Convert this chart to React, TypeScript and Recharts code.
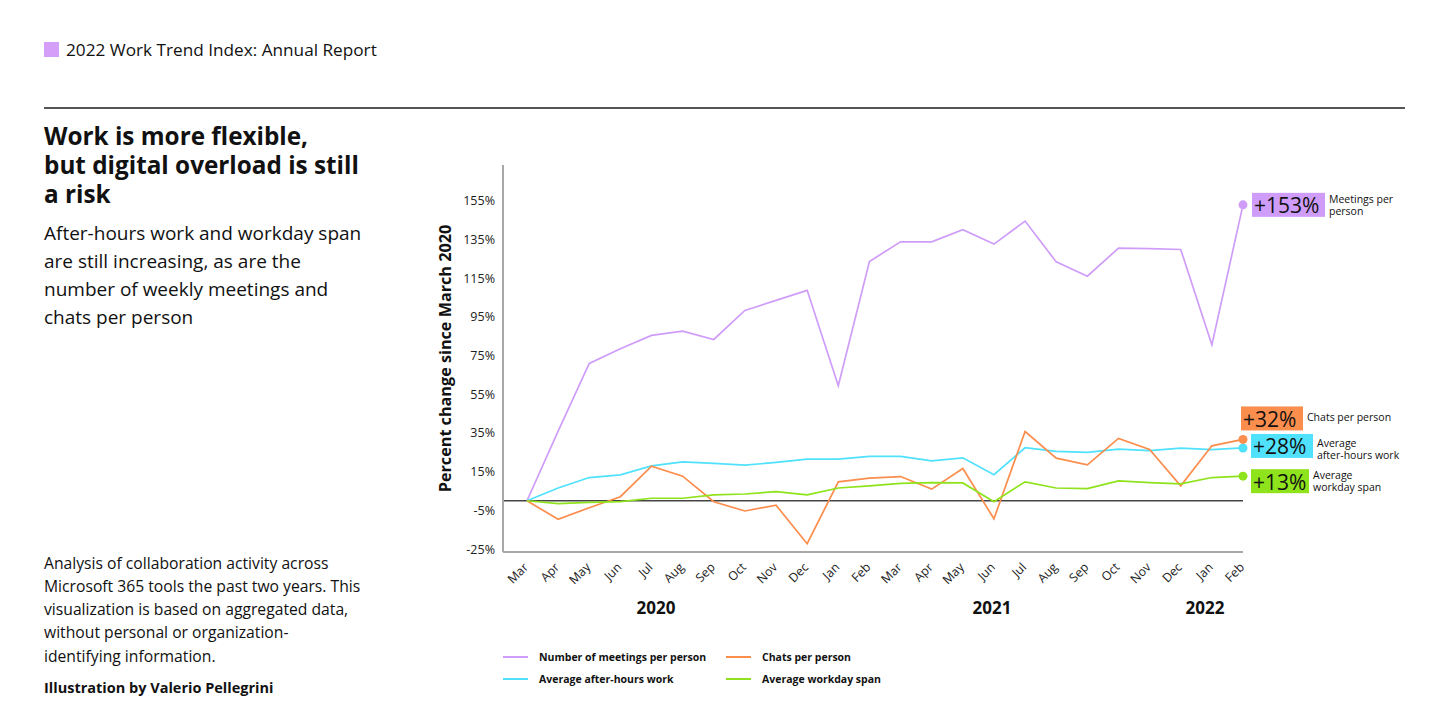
import React from "react";
import { LineChart, Line, XAxis, YAxis, ReferenceLine } from "recharts";

const MONTHS = [
  "Mar", "Apr", "May", "Jun", "Jul", "Aug", "Sep", "Oct", "Nov", "Dec", "Jan", "Feb",
  "Mar", "Apr", "May", "Jun", "Jul", "Aug", "Sep", "Oct", "Nov", "Dec", "Jan", "Feb",
];
// percent change since March 2020
const MEETINGS = [0, 36, 71, 78.6, 85.5, 87.7, 83.4, 98.4, 103.6, 108.8, 59.5, 123.7, 133.9, 133.9, 140.1, 132.7, 144.6, 123.5, 116.1, 130.6, 130.4, 129.9, 80.6, 153];
const AFTER_HOURS = [0, 6.6, 12, 13.4, 18, 20.1, 19.3, 18.4, 19.8, 21.5, 21.5, 22.9, 22.9, 20.6, 22.2, 13.5, 27.4, 25.5, 25, 26.7, 25.9, 27.2, 26.4, 27.3];
const CHATS = [0, -9.6, -3.6, 2.1, 17.9, 12.7, -0.5, -5.3, -2.3, -22.2, 9.8, 11.7, 12.5, 6, 16.7, -9.3, 35.8, 22, 18.6, 32.2, 26.5, 7.7, 28.4, 31.7];
const WORKDAY_SPAN = [0, -1.5, -0.8, -0.5, 1.3, 1.3, 3, 3.5, 4.7, 3, 6.6, 7.7, 9, 9.4, 9.2, -0.5, 9.8, 6.6, 6.3, 10.3, 9.4, 8.7, 12, 12.7];
const END_LABELS = ["+153%", "+28%", "+32%", "+13%"];
const Y_TICKS = [-25, -5, 15, 35, 55, 75, 95, 115, 135, 155];
const YEARS = ["2020", "2021", "2022"];

const FONT = '"Open Sans", "Noto Sans", sans-serif';
const TEXT = "#111";

const rows = MONTHS.map((m, i) => ({
  month: m,
  meetings: MEETINGS[i],
  afterHours: AFTER_HOURS[i],
  chats: CHATS[i],
  span: WORKDAY_SPAN[i],
}));

const SERIES = [
  {
    key: "meetings",
    name: "Number of meetings per person",
    color: "#cf9df9",
    end: END_LABELS[0],
    note: ["Meetings per", "person"],
    box: { dx: 9, dy: -12, w: 73 },
    noteDy: [6, 18],
  },
  {
    key: "afterHours",
    name: "Average after-hours work",
    color: "#50e1fc",
    end: END_LABELS[1],
    note: ["Average", "after-hours work"],
    box: { dx: 8, dy: -14, w: 62 },
    noteDy: [9, 21],
  },
  {
    key: "chats",
    name: "Chats per person",
    color: "#fb8d4d",
    end: END_LABELS[2],
    note: ["Chats per person"],
    box: { dx: -2, dy: -33, w: 62 },
    noteDy: [11],
  },
  {
    key: "span",
    name: "Average workday span",
    color: "#8fe31c",
    end: END_LABELS[3],
    note: ["Average", "workday span"],
    box: { dx: 8, dy: -7, w: 58 },
    noteDy: [6, 18],
  },
];

type S = (typeof SERIES)[number];

function endMarker(s: S) {
  return (props: any) => {
    const { cx, cy, index } = props;
    if (index !== MONTHS.length - 1) return <g key={`d-${s.key}-${index}`} />;
    const bx = cx + s.box.dx;
    const by = cy + s.box.dy;
    return (
      <g key={`d-${s.key}-${index}`}>
        <circle cx={cx} cy={cy} r={4.5} fill={s.color} />
        <rect x={bx} y={by} width={s.box.w} height={24} fill={s.color} />
        <text
          x={bx + 2}
          y={by + 12.5}
          dominantBaseline="central"
          fontSize={21}
          fontFamily={FONT}
          fill={TEXT}
        >
          {s.end}
        </text>
        {s.note.map((t, i) => (
          <text
            key={t}
            x={bx + s.box.w + 4}
            y={by + s.noteDy[i]}
            dominantBaseline="central"
            fontSize={10.5}
            fontFamily={FONT}
            fill={TEXT}
          >
            {t}
          </text>
        ))}
      </g>
    );
  };
}

function MonthTick(props: any) {
  const { x, y, payload } = props;
  const ax = x + 2;
  const ay = y + 8;
  return (
    <text
      x={ax}
      y={ay}
      transform={`rotate(-45 ${ax} ${ay})`}
      textAnchor="end"
      fontSize={12.3}
      fontFamily={FONT}
      fill="#222"
    >
      {payload.value}
    </text>
  );
}

function YLabel(props: any) {
  const { viewBox } = props;
  const x = viewBox.x + 25;
  const y = viewBox.y + viewBox.height / 2;
  return (
    <text
      x={x}
      y={y}
      transform={`rotate(-90 ${x} ${y})`}
      textAnchor="middle"
      dominantBaseline="central"
      fontSize={16.2}
      fontWeight={700}
      fontFamily={FONT}
      fill={TEXT}
    >
      Percent change since March 2020
    </text>
  );
}

const abs = (left: number, top: number, extra: React.CSSProperties = {}): React.CSSProperties => ({
  position: "absolute",
  left,
  top,
  margin: 0,
  fontFamily: FONT,
  color: TEXT,
  whiteSpace: "nowrap",
  ...extra,
});

export default function App() {
  return (
    <div style={{ position: "relative", width: 1447, height: 716, margin: -8, background: "#fff", overflow: "hidden" }}>
      <div style={{ position: "absolute", left: 44, top: 42, width: 15, height: 15, background: "#d49ef9" }} />
      <div style={abs(66, 37.5, { fontSize: 17.2, lineHeight: "24px" })}>2022 Work Trend Index: Annual Report</div>
      <div style={{ position: "absolute", left: 44, top: 107, width: 1361, height: 1.5, background: "#555" }} />

      <div style={abs(44, 121, { fontSize: 24.3, lineHeight: "29px", fontWeight: 700 })}>
        Work is more flexible,
        <br />
        but digital overload is still
        <br />a risk
      </div>
      <div style={abs(44, 218.5, { fontSize: 19, lineHeight: "28.3px" })}>
        After-hours work and workday span
        <br />
        are still increasing, as are the
        <br />
        number of weekly meetings and
        <br />
        chats per person
      </div>
      <div style={abs(44, 551.5, { fontSize: 15.7, lineHeight: "23.3px" })}>
        Analysis of collaboration activity across
        <br />
        Microsoft 365 tools the past two years. This
        <br />
        visualization is based on aggregated data,
        <br />
        without personal or organization-
        <br />
        identifying information.
      </div>
      <div style={abs(44, 678, { fontSize: 14.5, lineHeight: "20px", fontWeight: 700 })}>
        Illustration by Valerio Pellegrini
      </div>

      <div style={{ position: "absolute", left: 420, top: 150 }}>
        <LineChart
          width={1010}
          height={440}
          data={rows}
          margin={{ top: 15, right: 187, bottom: 0, left: 0 }}
          style={{ overflow: "visible" }}
        >
          <ReferenceLine y={0} stroke="#444" strokeWidth={1.3} />
          <XAxis
            dataKey="month"
            interval={0}
            padding={{ left: 24, right: 0 }}
            tickLine={false}
            axisLine={{ stroke: "#a8a8a8", strokeWidth: 2 }}
            height={38}
            tick={<MonthTick />}
          />
          <YAxis
            width={83}
            domain={[-26.5, 173.6]}
            ticks={Y_TICKS}
            tickLine={false}
            axisLine={{ stroke: "#a8a8a8", strokeWidth: 2 }}
            tickFormatter={(v: number) => `${v}%`}
            tick={{ fontSize: 12.5, fill: "#222", fontFamily: FONT }}
            label={<YLabel />}
          />
          {SERIES.map((s) => (
            <Line
              key={s.key}
              type="linear"
              dataKey={s.key}
              stroke={s.color}
              strokeWidth={1.7}
              dot={endMarker(s)}
              activeDot={false}
              isAnimationActive={false}
            />
          ))}
        </LineChart>
      </div>

      {YEARS.map((yr, i) => (
        <div
          key={yr}
          style={abs([626, 962, 1175][i], 597.5, { width: 60, textAlign: "center", fontSize: 17, lineHeight: "20px", fontWeight: 700 })}
        >
          {yr}
        </div>
      ))}

      {SERIES.map((s, i) => {
        const col = i === 0 || i === 1 ? 0 : 1;
        const row = i === 0 || i === 2 ? 0 : 1;
        const lx = col === 0 ? 503 : 726;
        const ly = row === 0 ? 657 : 679;
        return (
          <div key={s.key}>
            <div style={{ position: "absolute", left: lx, top: ly - 1, width: 25, height: 2, background: s.color }} />
            <div style={abs(lx + 36, ly - 8, { fontSize: 10.5, lineHeight: "16px", fontWeight: 700 })}>{s.name}</div>
          </div>
        );
      })}
    </div>
  );
}
